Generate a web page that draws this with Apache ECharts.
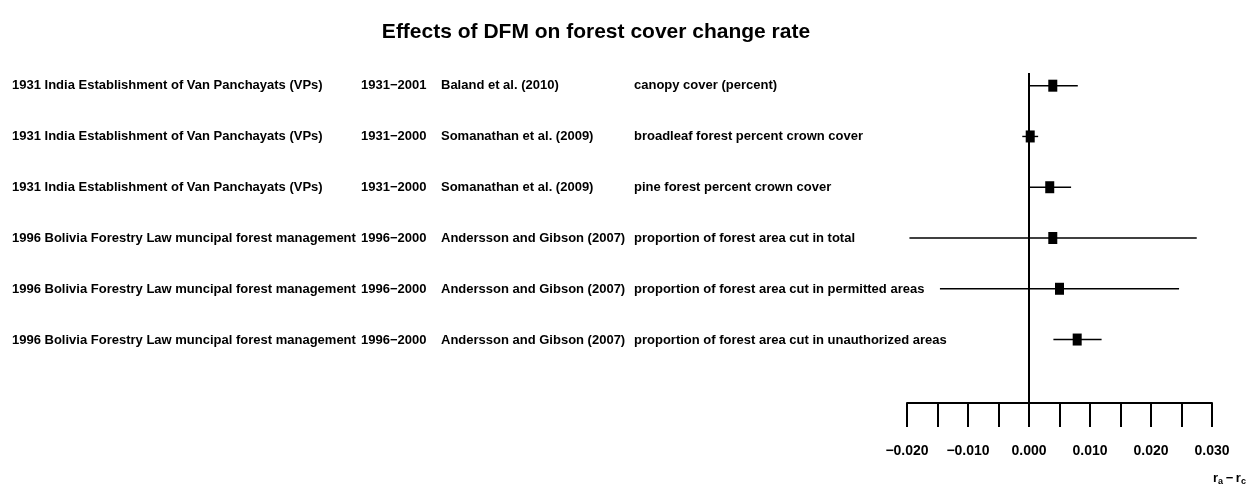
<!DOCTYPE html>
<html>
<head>
<meta charset="utf-8">
<script src="https://cdn.jsdelivr.net/npm/echarts@6/dist/echarts.min.js"></script>
<style>html,body{margin:0;padding:0;background:#fff;}#c{width:1248px;height:484px;}</style>
</head>
<body>
<div id="c"></div>
<script>
const interventions = [
  "1931 India Establishment of Van Panchayats (VPs)",
  "1931 India Establishment of Van Panchayats (VPs)",
  "1931 India Establishment of Van Panchayats (VPs)",
  "1996 Bolivia Forestry Law muncipal forest management",
  "1996 Bolivia Forestry Law muncipal forest management",
  "1996 Bolivia Forestry Law muncipal forest management"
];
const periods = ["1931\u22122001", "1931\u22122000", "1931\u22122000", "1996\u22122000", "1996\u22122000", "1996\u22122000"];
const studies = ["Baland et al. (2010)", "Somanathan et al. (2009)", "Somanathan et al. (2009)", "Andersson and Gibson (2007)", "Andersson and Gibson (2007)", "Andersson and Gibson (2007)"];
const outcomes = [
  "canopy cover (percent)",
  "broadleaf forest percent crown cover",
  "pine forest percent crown cover",
  "proportion of forest area cut in total",
  "proportion of forest area cut in permitted areas",
  "proportion of forest area cut in unauthorized areas"
];
const estimates = [0.0039, 0.0002, 0.0034, 0.0039, 0.0050, 0.0079];
const ciLower   = [0.0000, -0.0011, 0.0000, -0.0196, -0.0146, 0.0040];
const ciUpper   = [0.0080, 0.0015, 0.0069, 0.0275, 0.0246, 0.0119];
const xTickMin = -0.02, xTickMax = 0.03, xTickStep = 0.005;

const FONT = "'Liberation Sans', Arial, sans-serif";
const FS = 13;
const chart = echarts.init(document.getElementById('c'), null, {renderer: 'canvas'});

const rowIdx = interventions.map((_, i) => i + 1);

chart.setOption({
  animation: false,
  backgroundColor: '#fff',
  textStyle: {fontFamily: FONT},
  graphic: [
    {type: 'text', x: 596, y: 32,
     style: {text: 'Effects of DFM on forest cover change rate', fill: '#000',
       font: 'bold 21px ' + FONT, textAlign: 'center', textVerticalAlign: 'middle'}},
    {type: 'text', x: 1213, y: 471,
     style: {text: 'r{s|a}\u2009\u2212\u2009r{s|c}', fill: '#000', font: 'bold 13px ' + FONT,
       textVerticalAlign: 'top',
       rich: {s: {fontSize: 9, fontWeight: 'bold', fontFamily: FONT, verticalAlign: 'bottom', padding: [6, 0, 0, 0]}}}}
  ],
  grid: [
    {left: 907, right: 36, top: 73, bottom: 81},
    {left: 907, width: 10, top: 59.5, height: 306}
  ],
  xAxis: [
    {type: 'value', gridIndex: 0, min: xTickMin, max: xTickMax, interval: xTickStep,
     axisLine: {show: true, lineStyle: {color: '#000', width: 2}},
     axisTick: {show: true, length: 24, lineStyle: {color: '#000', width: 2}},
     splitLine: {show: false},
     axisLabel: {margin: 41, color: '#000', fontSize: 14, fontWeight: 'bold', fontFamily: FONT,
       formatter: function (v) {
         const k = Math.round(v * 1000);
         if (k % 10 !== 0) return '';
         return v.toFixed(3).replace('-', '\u2212');
       }}},
    {type: 'value', gridIndex: 1, show: false}
  ],
  yAxis: [
    {type: 'value', gridIndex: 0, min: 0.75, max: 7.25, inverse: true, show: false},
    {type: 'category', gridIndex: 1, inverse: true, data: rowIdx,
     axisLine: {show: false}, axisTick: {show: false}, splitLine: {show: false},
     axisLabel: {align: 'left', margin: 895, color: '#000', fontSize: FS, fontWeight: 'bold', fontFamily: FONT,
       formatter: function (v, i) {
         return '{a|' + interventions[i] + '}{b|' + periods[i] + '}{c|' + studies[i] + '}{d|' + outcomes[i] + '}';
       },
       rich: {
         a: {width: 349, fontSize: FS, fontWeight: 'bold', fontFamily: FONT, color: '#000'},
         b: {width: 80, fontSize: FS, fontWeight: 'bold', fontFamily: FONT, color: '#000'},
         c: {width: 193, fontSize: FS, fontWeight: 'bold', fontFamily: FONT, color: '#000'},
         d: {fontSize: FS, fontWeight: 'bold', fontFamily: FONT, color: '#000'}
       }}}
  ],
  series: [
    {type: 'custom', xAxisIndex: 0, yAxisIndex: 0,
     data: rowIdx.map((r, i) => [ciLower[i], ciUpper[i], r]),
     encode: {x: [0, 1], y: 2},
     renderItem: function (params, api) {
       const lo = api.coord([api.value(0), api.value(2)]);
       const hi = api.coord([api.value(1), api.value(2)]);
       return {type: 'line', shape: {x1: lo[0], y1: lo[1], x2: hi[0], y2: hi[1]},
         style: {stroke: '#000', lineWidth: 1.4}};
     }},
    {type: 'scatter', xAxisIndex: 0, yAxisIndex: 0,
     data: rowIdx.map((r, i) => [estimates[i], r]),
     symbol: 'rect', symbolSize: [9, 12],
     itemStyle: {color: '#000', opacity: 1},
     markLine: {silent: true, symbol: 'none', label: {show: false},
       lineStyle: {color: '#000', width: 2, type: 'solid', opacity: 1},
       data: [{xAxis: 0}]}}
  ]
});
</script>
</body>
</html>
